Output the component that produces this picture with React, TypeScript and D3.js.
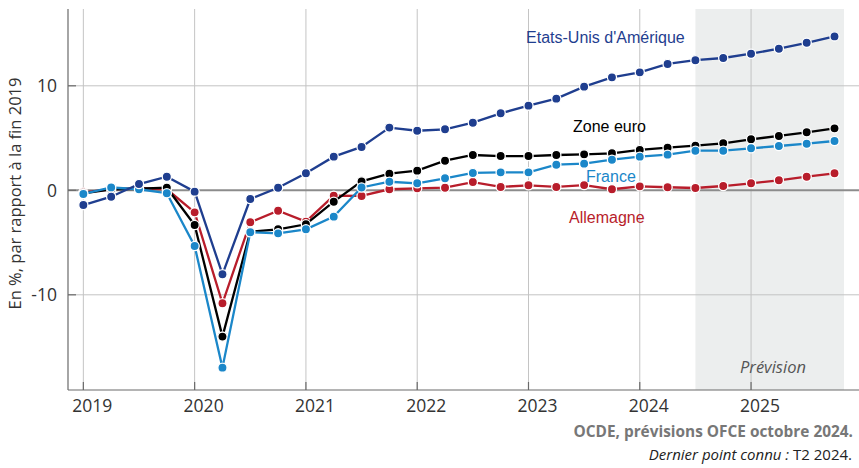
import React from "react";
import * as d3 from "d3";

const years = [2019, 2020, 2021, 2022, 2023, 2024, 2025];
const quarters = years.flatMap((y) => [0, 1, 2, 3].map((q) => y + q * 0.25));

const usa = [-1.41, -0.61, 0.6, 1.3, -0.13, -8.04, -0.83, 0.25, 1.63, 3.22, 4.15, 6.0, 5.7, 5.84, 6.47, 7.37, 8.1, 8.77, 9.92, 10.81, 11.29, 12.09, 12.45, 12.66, 13.07, 13.55, 14.12, 14.73];
const zoneEuro = [-0.3, 0.1, 0.15, 0.25, -3.32, -14.0, -3.96, -3.73, -3.25, -1.09, 0.85, 1.59, 1.88, 2.83, 3.38, 3.28, 3.28, 3.38, 3.44, 3.54, 3.86, 4.08, 4.27, 4.5, 4.88, 5.2, 5.55, 5.93];
const france = [-0.35, 0.27, 0.1, -0.28, -5.33, -16.97, -4.02, -4.12, -3.73, -2.52, 0.27, 0.82, 0.67, 1.15, 1.66, 1.72, 1.72, 2.45, 2.55, 2.93, 3.22, 3.41, 3.79, 3.79, 4.02, 4.24, 4.46, 4.72];
const allemagne = [-0.2, 0.1, 0.2, 0.1, -2.11, -10.81, -3.06, -1.95, -3.0, -0.52, -0.54, 0.1, 0.19, 0.25, 0.79, 0.32, 0.48, 0.32, 0.5, 0.1, 0.38, 0.29, 0.22, 0.41, 0.67, 0.96, 1.3, 1.63];

const yTicks = [-10, 0, 10];
const forecastStart = 2024.5;
const forecastEnd = 2025.835;

const series = [
  { name: "Allemagne", values: allemagne, color: "#b81d2b", label: { x: 2023.364, y: -3.13 } },
  { name: "Zone euro", values: zoneEuro, color: "#000000", label: { x: 2023.4, y: 5.58 } },
  { name: "France", values: france, color: "#1b87c9", label: { x: 2023.517, y: 0.79 } },
  { name: "Etats-Unis d'Amérique", values: usa, color: "#1f3e8f", label: { x: 2022.978, y: 14.1 } },
];

const W = 859;
const H = 468;
const FONT = "'Open Sans', 'Noto Sans', sans-serif";
const LABEL_FONT = "'Liberation Sans', Arial, sans-serif";

export default function App() {
  const x = d3.scaleLinear().domain([2018.862, 2025.97]).range([68, 859]);
  const y = d3.scaleLinear().domain([-19.11, 17.35]).range([390, 9]);
  const line = d3
    .line<number>()
    .x((_, i) => x(quarters[i]))
    .y((d) => y(d));

  const [x0, x1] = x.range();
  const [yb, yt] = y.range();

  return (
    <svg width={W} height={H} style={{ position: "absolute", left: 0, top: 0, background: "#fff" }}>
      {/* forecast shading */}
      <rect x={x(forecastStart)} y={yt} width={x(forecastEnd) - x(forecastStart)} height={yb - yt} fill="#eceeee" />
      {/* grid */}
      {years.map((yr) => (
        <line key={"vg" + yr} x1={x(yr)} x2={x(yr)} y1={yt} y2={yb} stroke="#c4c4c4" strokeWidth={1} />
      ))}
      {yTicks
        .filter((t) => t !== 0)
        .map((t) => (
          <line key={"hg" + t} x1={x0} x2={x1} y1={y(t)} y2={y(t)} stroke="#c4c4c4" strokeWidth={1} />
        ))}
      <line x1={x0} x2={x1} y1={y(0)} y2={y(0)} stroke="#8c8c8c" strokeWidth={2} />
      {/* axes */}
      <line x1={x0} x2={x0} y1={yt} y2={yb} stroke="#6a6a6a" strokeWidth={1.2} />
      <line x1={x0} x2={x1} y1={yb} y2={yb} stroke="#6a6a6a" strokeWidth={1.2} />
      {yTicks.map((t) => (
        <g key={"yt" + t}>
          <line x1={x0} x2={x0 + 8} y1={y(t)} y2={y(t)} stroke="#6a6a6a" strokeWidth={1.2} />
          <text x={57} y={y(t)} dy="0.36em" textAnchor="end" fontFamily={FONT} fontSize={17.5} fill="#333">
            {t}
          </text>
        </g>
      ))}
      {years.map((yr) => (
        <g key={"xt" + yr}>
          <line x1={x(yr)} x2={x(yr)} y1={yb - 8} y2={yb} stroke="#6a6a6a" strokeWidth={1.2} />
          <text x={x(yr) + 9} y={yb + 22} textAnchor="middle" fontFamily={FONT} fontSize={17.5} fill="#333">
            {yr}
          </text>
        </g>
      ))}
      <text
        transform={`translate(21, ${(yt + yb) / 2 - 6}) rotate(-90)`}
        textAnchor="middle"
        fontFamily={FONT}
        fontSize={16.5}
        fill="#333"
      >
        En %, par rapport à la fin 2019
      </text>
      <text x={773} y={373} textAnchor="middle" fontFamily={FONT} fontStyle="italic" fontSize={16.5} fill="#555">
        Prévision
      </text>
      {/* series */}
      {series.map((s) => (
        <g key={s.name}>
          <path d={line(s.values) || ""} fill="none" stroke={s.color} strokeWidth={2.3} />
          {s.values.map((v, i) => (
            <circle key={i} cx={x(quarters[i])} cy={y(v)} r={4.6} fill={s.color} stroke="#fff" strokeWidth={1.3} />
          ))}
        </g>
      ))}
      {series.map((s) => (
        <text key={"lb" + s.name} x={x(s.label.x)} y={y(s.label.y)} fontFamily={LABEL_FONT} fontSize={16} fill={s.color}>
          {s.name}
        </text>
      ))}
      {/* sources */}
      <text x={853} y={437} textAnchor="end" fontFamily={FONT} fontWeight="bold" fontSize={15.4} fill="#777">
        OCDE, prévisions OFCE octobre 2024.
      </text>
      <text x={852} y={460} textAnchor="end" fontFamily={FONT} fontSize={15} fill="#222">
        <tspan fontStyle="italic">Dernier point connu :</tspan> T2 2024.
      </text>
    </svg>
  );
}
